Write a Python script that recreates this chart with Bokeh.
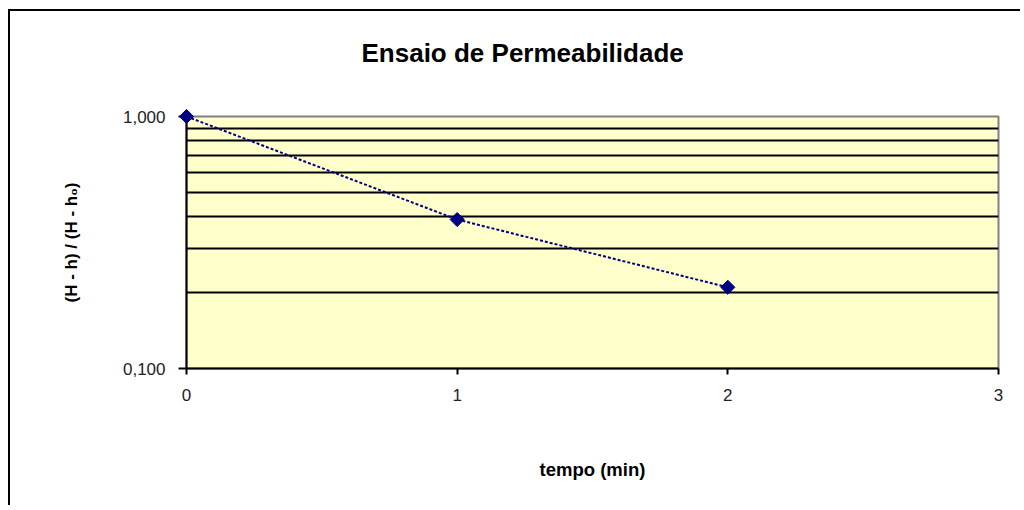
import math
from bokeh.plotting import figure
from bokeh.models import FixedTicker
from bokeh.embed import file_html
from bokeh.resources import INLINE

# data
tempo = [0, 1, 2]
razao = [1.0, 0.39, 0.21]
x_ticks = [0, 1, 2, 3]
y_ticks = [0.1, 1.0]
y_tick_labels = ["0,100", "1,000"]
y_grid = [0.2, 0.3, 0.4, 0.5, 0.6, 0.7, 0.8, 0.9]
titulo = "Ensaio de Permeabilidade"

FONT = "Liberation Sans"

p = figure(width=1012, height=496, y_axis_type="log",
           x_range=(0, 3), y_range=(0.1, 1.0),
           output_backend="svg", toolbar_location=None,
           min_border_left=176, min_border_right=24,
           min_border_top=105, min_border_bottom=139,
           title=titulo)
p.styles = {"margin-left": "8px", "margin-top": "9px",
            "border-left": "2px solid #000", "border-top": "2px solid #000"}

p.background_fill_color = "#FFFFCC"
p.border_fill_color = "white"
p.outline_line_color = "#808080"
p.outline_line_width = 2

p.title.text_font = FONT
p.title.text_font_size = "26px"
p.title.text_font_style = "bold"
p.title.text_color = "black"
p.title.align = "left"
p.title.offset = 175
p.title.standoff = 20
p.title.padding = (0, 0, 0, 39)

# x axis
xa = p.xaxis[0]
xa.ticker = FixedTicker(ticks=x_ticks, minor_ticks=[])
xa.axis_line_color = "black"
xa.axis_line_width = 2
xa.major_tick_in = 0
xa.major_tick_out = 6
xa.major_tick_line_width = 2
xa.minor_tick_line_color = None
xa.major_label_standoff = 14
xa.major_label_text_font = FONT
xa.major_label_text_font_size = "17px"
xa.major_label_text_color = "#222222"
xa.axis_label = "tempo (min)"
xa.axis_label_text_font = FONT
xa.axis_label_text_font_size = "18.5px"
xa.axis_label_text_font_style = "bold"
xa.axis_label_text_color = "black"
xa.axis_label_standoff = 55

# y axis
ya = p.yaxis[0]
ya.ticker = FixedTicker(ticks=y_ticks, minor_ticks=[])
ya.major_label_overrides = dict(zip(y_ticks, y_tick_labels))
ya.axis_line_color = "black"
ya.axis_line_width = 2
ya.major_tick_in = 0
ya.major_tick_out = 8
ya.major_tick_line_width = 2
ya.minor_tick_line_color = None
ya.major_label_standoff = 13
ya.major_label_text_font = FONT
ya.major_label_text_font_size = "17px"
ya.major_label_text_color = "#222222"
ya.axis_label = "(H - h) / (H - h\u2080)"
ya.axis_label_text_font = FONT
ya.axis_label_text_font_size = "17px"
ya.axis_label_text_font_style = "bold"
ya.axis_label_text_color = "black"
ya.axis_label_standoff = 39

p.xgrid.visible = False
p.ygrid.ticker = FixedTicker(ticks=y_grid)
p.ygrid.grid_line_color = "black"
p.ygrid.grid_line_width = 2

p.line(tempo, razao, line_color="#000080", line_width=2, line_dash="3 2")
p.scatter(tempo, razao, marker="square", size=10, angle=math.pi / 4,
          fill_color="#000080", line_color="#000080", level="overlay")

open("out.html", "w").write(file_html(p, INLINE))
